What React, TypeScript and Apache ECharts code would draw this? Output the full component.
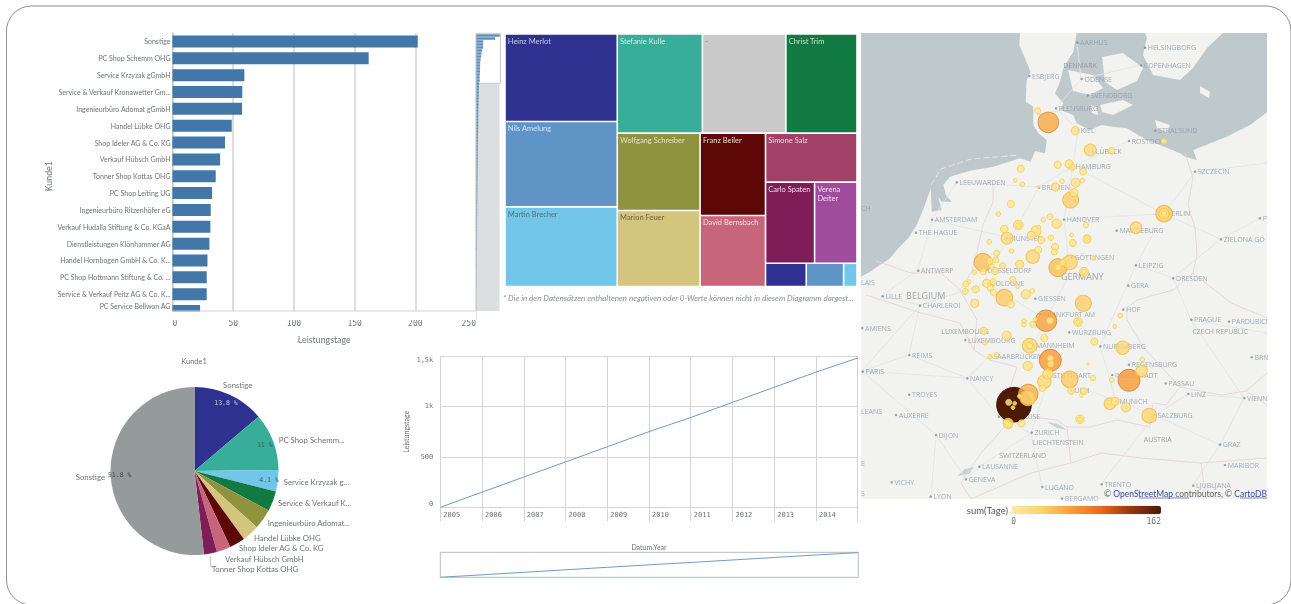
import React, { useEffect, useRef } from "react";
import * as echarts from "echarts";

const customers = ["Sonstige","PC Shop Schemm OHG","Service Krzyzak gGmbH","Service & Verkauf Kronawetter Gm...","Ingenieurbüro Adomat gGmbH","Handel Lübke OHG","Shop Ideler AG & Co. KG","Verkauf Hübsch GmbH","Tonner Shop Kottas OHG","PC Shop Leiting UG","Ingenieurbüro Ritzenhöfer eG","Verkauf Hudalla Stiftung & Co. KGaA","Dienstleistungen Klönhammer AG","Handel Hornbogen GmbH & Co. K...","PC Shop Hottmann Stiftung & Co. ...","Service & Verkauf Peitz AG & Co. K...","PC Service Bellwon AG"];
const customerDays = [202,161.6,59.2,57.5,57.3,48.8,43.3,39.2,35.6,32.6,31.5,31.2,30.4,28.8,28.2,28.2,22.7];
const tailDays = [21,20,20,19,19,18,18,17,17,16,16,15,15,15,14,14,13,13,13,12,12,12,11,11,11,10,10,10,9,9,9,9,8,8,8,8,7,7,7,7,6,6,6,6,5,5,5,5,5,4,4,4,4,4,4,3,3,3,3,3,3,2,2,2,2,2,2,2,1,1,1,1,1,1,1];

// tile tables: [name, value, fill, ink]
const tilesLead: [string,number,string,string][] = [
["Heinz Merlot",9789,"#2e3190","#c9cbe4"],["Nils Amelung",9557,"#5f95c6","#d5e2ee"],["Martin Brecher",8923,"#71c6ea","#5d6f78"],["Stefanie Kulle",8415,"#38ae9a","#cfece6"],["-",8250,"#c8c9c8","#8a8a8a"],["Christ Trim",7029,"#117a43","#c5e0cf"],["Wolfgang Schreiber",6393,"#8f933d","#e3e4c9"],["Marion Feuer",6285,"#d4c57c","#6b6540"],["Franz Beiler",5376,"#5e0707","#f0d6d6"],["David Bernsbach",4638,"#c7657a","#f5dde2"],
];
const tilesSimone: [string,number,string,string] = ["Simone Salz",4474,"#a14167","#f0dce3"];
const tilesPair: [string,number,string,string][] = [["Carlo Spaten",3969,"#7f1d58","#eedde8"],["Verena\nDeiter",3429,"#9f4c9c","#f0e0ef"]];
const tilesSmall: [string,number,string,string][] = [[" ",948,"#2e3190","#fff"],["  ",870,"#5f95c6","#fff"],["   ",311,"#71c6ea","#fff"]];

const pieNames = ["Sonstige","PC Shop Schemm...","Service Krzyzak g...","Service & Verkauf K...","Ingenieurbüro Adomat...","Handel Lübke OHG","Shop Ideler AG & Co. KG","Verkauf Hübsch GmbH","Tonner Shop Kottas OHG","Sonstige"];
const pieValues = [13.8,11,4.1,3.9,3.9,3.3,3,2.7,2.5,51.8];
const pieColors = ["#2e3190","#38ae9a","#71c6ea","#117a43","#8f933d","#d4c57c","#5e0707","#c7657a","#7f1d58","#959a9a"];
const piePercentInk: Record<number,string> = { 0: "#c9cbe4", 1: "#2f5f56", 2: "#3f5f6c", 9: "#3f4545" };

const years = ["2005","2006","2007","2008","2009","2010","2011","2012","2013","2014",""];
const yearDays = [0,150,300,450,600,750,890,1040,1190,1340,1480];

// map space: 0..406 across, 0..466 down
const bubbles: number[][] = [
[176.7,77.7,5],[187.3,89.3,57],[214.3,97.7,9],[229.3,117,19],[250.7,117.7,6],[302.7,108.3,4],[196.7,131.7,7],[208,131,9],[211,134.7,5],[212.3,134,3],[222,138.7,6],[159.7,135.7,7],[154.3,147.3,2],[161.3,151.3,3],[177.3,154,1],[194.3,154,9],[201,148.3,3],[214.7,149.7,11],[221.3,147.7,3],[213,159.7,9],[209.7,167,35],[149.7,171,7],[137.3,181,3],[157.3,192,12],[157.3,192.5,4],[182.3,186.7,3],[189,183.7,5],[195.7,190.7,12],[225,192,4],[143.3,196,8],[175,198,14],[178,194.3,2],[170.3,202.3,9],[146,205.3,19],[180.3,207,7],[190,204.7,4],[210.7,202,2],[211.7,210,7],[226,206,9],[226,206,2],[128.3,208.7,3],[194,214,7],[193.3,219,5],[177.3,216.7,7],[150.7,218,3],[171.7,223.7,24],[135.7,220.3,5],[122,229.3,44],[129,228,5],[134.7,227,5],[209,229.3,29],[197,234.7,44],[197,234.4,5],[201.7,229.7,5],[232.3,225.3,2],[158.7,231.3,9],[141.7,232.7,5],[130.7,233.7,4],[223,238.7,10],[223,238.7,3],[275,194.7,18],[303,180.7,37],[303,180.7,14],[303,180.7,4],[113.3,239.3,3],[122.3,238.7,5],[134,238,7],
[151.7,246.3,5],[125.7,250.3,9],[132.3,248.7,5],[104.7,251,5],[108.3,248.7,2],[104.3,258.3,5],[114.7,256.3,7],[129.3,255.3,5],[132.3,259.3,5],[156.7,253.7,2],[143.3,264.7,37],[164.7,261.3,11],[171.3,258,3],[113.7,270.3,9],[150,271.3,7],[222.3,270.3,35],[185,287.7,62],[189,287.7,6],[174.3,286.3,2],[163,288,3],[163,291.7,3],[171.7,291.3,5],[217,289,10],[217,289,3],[259.3,282.7,3],[253.7,293.3,2],[122.7,297.7,7],[145.7,302.7,11],[124,310.3,2],[183.3,305,7],[168.7,312.7,29],[168.7,312.7,5],[233.3,308.7,7],[261.7,314.7,24],[129,323.7,3],[135.3,321.7,3],[189.3,327.3,65],[189.3,325.3,5],[189.7,331,5],[166.7,333,12],[186.7,341,14],[227,331,1],[281.3,326.3,3],[280.7,338,18],[268,347.3,65],[208.7,346.3,37],[183.3,348.7,24],[188.3,343,2],[232,345,4],[250.7,347,3],[181.3,355.3,6],[210.3,357.7,7],[223,358.3,6],[220.3,362.3,2],[167.3,361,51],[166.7,365,32],[153,371.7,162],[158.3,363.3,2],[147.7,369.3,5],[153.7,370.3,2],[152,374.7,2],[249,370.7,18],[254,368.3,9],[248.3,369.7,2],[265,374.3,12],[288.3,382.7,29],[219,386.3,10],[219,386.3,3],[147,390.3,14],[147,390.3,5],[160.7,390.3,7]
];
const cities: [number,number,string][] = [
[216.3,9.7,"AARHUS"],[284,14.7,"HELSINGBORG"],[280,32.3,"COPENHAGEN"],[168.3,43,"ESBJERG"],[220.7,46,"ODENSE"],[227,62.3,"SVENDBORG"],[195,75.3,"FLENSBURG"],[217,97,"KIEL"],[294.3,97.7,"STRALSUND"],[268,108,"ROSTOCK"],[232,118.7,"LÜBECK"],[212,133,"HAMBURG"],[334,138.7,"SZCZECIN"],[95.7,149.3,"LEEUWARDEN"],[178,154.7,"BREMEN"],[71,186.7,"AMSTERDAM"],[203,186.7,"HANOVER"],[399,185.3,"P"],[55,199.7,"THE HAGUE"],[255.7,197.7,"MAGDEBURG"],[303,180.7,"BERLIN"],[145.7,205.3,"MÜNSTER"],[360,206.3,"ZIELONA GÓ"],[57.3,237.7,"ANTWERP"],[124,237.7,"DÜSSELDORF"],[275,232.3,"LEIPZIG"],[210.7,224.3,"GÖTTINGEN"],
[312.3,245.3,"DRESDEN"],[267.3,252.7,"GERA"],[21.7,263.3,"LILLE"],[59,272.7,"CHARLEROI"],[127.3,250.3,"COLOGNE"],[174.3,265.7,"GIESSEN"],[262.3,276.7,"HOF"],[180,281.3,"FRANKFURT AM"],[330.3,286.7,"PRAGUE"],[368,288.7,"PARDUBICI"],[1.3,295,"AMIENS"],[208.3,299.3,"WÜRZBURG"],[104.3,307,"LUXEMBOURG"],[172.3,312,"MANNHEIM"],[239.3,313.3,"NUREMBERG"],[48.3,322,"REIMS"],[129.7,323,"SAARBRÜCKEN"],[268,331.7,"REGENSBURG"],[390.7,324.3,"BRN"],[1.7,338.7,"PARIS"],[189,342,"STUTTGART"],[106.3,345.3,"NANCY"],[251.3,342,"INGOLSTADT"],[304.7,350.3,"PASSAU"],[327.3,361,"LINZ"],[48.3,361.7,"TROYES"],[210.7,357.7,"ULM"],[383.3,365,"VIENN"],[255.7,368.3,"MUNICH"],[35,382,"AUXERRE"],[294,382,"SALZBURG"],[138,383.7,"MULHOUSE"],[75,402,"DIJON"],[170.7,399.7,"ZURICH"],[359,411.7,"GRAZ"],[364,432,"MARIBOR"],[118.3,433.7,"LAUSANNE"],[105,446.3,"GENEVA"],[30.7,449.3,"VICHY"],[181.3,454,"LUGANO"],[240.7,451.3,"TRENTO"],[332.3,452.7,"LJUBLJANA"],[69.7,463.7,"LYON"],[201,465.7,"BERGAMO"]
];
const regions: [number,number,string][] = [
[359,298.3,"CZECH REPUBLIC"],[104,298.3,"LUXEMBOURG"],[197.3,409,"LIECHTENSTEIN"],[296.7,406.3,"AUSTRIA"],[161.7,422.3,"SWITZERLAND"],[219,32.5,"DENMARK"],
];
const majorRegions: [number,number,string][] = [[221.3,243.7,"GERMANY"],[64.7,262.7,"BELGIUM"]];
const edgeLabels: [number,number,string][] = [[0,175.3,"CH"],[0,249,"LAIS"],[0,378.3,"LEANS"],[0,430,"E"],[0,460.3,"S"]];

const mainland = [[159,0],[158.3,12],[164,25.3],[169.7,38.7],[165.7,47],[164.7,68.7],[172.3,73.7],[172.3,92],[177.3,100.3],[185.7,107],[184,120.3],[174,118],[169.7,128.7],[159,125.3],[132.3,133.7],[109,137.7],[89,143.7],[82.3,152],[85,162],[90.7,168.7],[80.7,168.7],[77.3,163.7],[80.7,177],[70.7,178.7],[69.7,155.3],[64,172],[55.7,192],[47.3,205.3],[37.3,215.3],[29,225.3],[9,238.7],[0,243.7],[0,466],[406,466],[406,79.3],[389,92],[365.7,103.7],[332.3,117],[335.7,127],[324,123.7],[319,120.3],[299,112],[285.7,107],[265.7,95.3],[252.3,93.7],[240.7,92],[229,97],[215.7,90.3],[212.3,82],[199,77],[202.3,70.3],[194,60.3],[199,48.7],[202.3,35.3],[212.3,18.7],[215.7,0]];
const islands = [
[[207,37],[232,42],[242,55],[229,62],[212,58]],
[[241,24],[262,20],[282,35],[276,48],[256,57],[244,49]],
[[239,72],[262,67],[272,72],[252,82],[241,79]],
[[286,5],[282,22],[292,42],[319,47],[332,35],[346,15],[362,0],[284,0]],
[[294,87],[309,92],[306,99],[296,95]],
[[339,53],[349,59],[348,65],[339,60]],
[[230,72],[236,74],[237,82],[231,80]],
];
const lakes = [
[[186,389],[197,391],[206,397],[196,395]],
[[96,443],[104,436],[113,434],[108,441]],
];
const borders = [
[[324,120],[332,145],[327,172],[334,195],[336,222],[332,240]],
[[332,240],[312,257],[276,267],[266,275],[266,287],[282,314],[306,340],[319,354]],
[[319,354],[360,362],[385,358],[406,372]],
[[319,354],[305,372],[292,370],[289,394],[256,387],[229,394],[206,394]],
[[206,394],[196,387],[172,384],[147,390]],
[[147,390],[146,364],[156,334],[129,327],[113,317]],
[[113,317],[116,287],[99,257],[111,238],[116,219],[122,192],[132,169],[132,149]],
[[99,257],[80,240],[50,240],[15,228]],
[[113,317],[99,290],[60,280],[30,270],[5,262]],
[[147,390],[120,420],[100,450],[110,466]],
[[110,466],[170,440],[210,430],[240,420],[280,425],[340,430],[406,425]],
[[385,358],[406,340]],[[332,240],[370,270],[406,285]],
[[176,82],[212,75]],[[206,394],[210,430]],[[340,430],[345,466]],
];
const roads = [
[[212,133],[203,186],[209,240],[185,287],[172,312],[189,342],[255,368]],[[203,186],[303,181]],[[303,181],[212,133]],[[212,133],[178,154],[150,205],[124,238]],[[124,238],[127,250],[185,287]],[[303,181],[275,232],[239,313],[255,368]],[[275,232],[312,245],[330,287],[383,365]],[[303,181],[360,206],[399,185]],[[303,181],[334,139]],[[255,368],[294,382],[327,361],[383,365]],[[127,250],[59,272],[1,338]],[[59,272],[20,263]],[[57,237],[71,187]],[[57,237],[20,263]],[[1,338],[106,345],[129,323]],[[106,345],[138,384],[170,400],[189,342]],[[1,338],[75,402],[105,446],[118,434],[170,400]],[[75,402],[70,464]],[[170,400],[181,454]],[[294,382],[359,412],[383,365]],[[359,412],[332,452]],[[240,451],[294,382]],[[212,133],[217,97],[195,75],[220,46],[216,10]],[[220,46],[280,32]],[[268,108],[212,133]],[[71,187],[150,205]],[[96,149],[71,187]],[[96,149],[178,154]],[[334,139],[406,130]],[[312,245],[360,206]],[[217,289],[239,313]],[[48,322],[1,338]],[[48,322],[106,345]],[[48,322],[59,272]],[[330,287],[406,300]],
];
const legendStops = ["#fde9a0","#fbd26f","#f89c3a","#e8671c","#93380c","#4f1a05"];
const rimStops = ["#f6d53f","#eeb93f","#c9802a","#b54d12","#6c2a09","#3a1303"];

const LATO = "Lato, 'Noto Sans', sans-serif";
const MONO = "'DejaVu Sans Mono', monospace";
const OPEN = "'Open Sans', sans-serif";
const GRID = "#d2d4d5";
const INK = "#6f7374";
const OX = 861, OY = 33;
const shift = (pts: number[][]) => pts.map(([x, y]) => [x + OX, y + OY]);

const pieLabelAt: Record<number, any> = {
  0: { x: 223, y: 385, align: "left" },
  1: { x: 278.7, y: 440, align: "left" },
  2: { x: 283.7, y: 482, align: "left" },
  3: { x: 278, y: 503, align: "left" },
  4: { x: 267.7, y: 522.7, align: "left" },
  5: { x: 254, y: 537.5, align: "left" },
  6: { x: 239, y: 548, align: "left" },
  7: { x: 225, y: 558.5, align: "left" },
  8: { x: 211.7, y: 569, align: "left" },
  9: { x: 105, y: 477, align: "right" },
};

const tile = ([name, value, color, ink]: [string, number, string, string]) => ({
  name, value,
  itemStyle: { color, borderColor: "rgba(255,255,255,0.55)", borderWidth: 0.8 },
  label: { show: true, position: "insideTopLeft", distance: 2, padding: 0, fontFamily: LATO, fontSize: 7.5, color: ink, overflow: "none", lineHeight: 9 },
});
const sum = (list: [string, number, string, string][]) => list.reduce((a, t) => a + t[1], 0);
const group = (children: any[], value: number) => ({ name: " ", value, children, label: { show: false }, upperLabel: { show: false }, itemStyle: { borderWidth: 0, gapWidth: 0 } });

export default function App() {
  const ref = useRef<HTMLDivElement>(null);
  useEffect(() => {
    const chart = echarts.init(ref.current!, undefined, { renderer: "svg" });
    const backdrop: any[] = [
      { type: "rect", z: 0, shape: { x: 6.5, y: 6, width: 1284.5, height: 599, r: 25 }, style: { fill: "#fff", stroke: "#8f8f8f", lineWidth: 1 } },
      { type: "rect", z: 0, shape: { x: 476, y: 33, width: 23.5, height: 278 }, style: { fill: "#dcdedf" } },
      { type: "rect", z: 0, shape: { x: 476.5, y: 33.3, width: 24, height: 50 }, style: { fill: "#fff", stroke: "#c9cbcc", lineWidth: 1 } },
      { type: "rect", z: 0, shape: { x: 440.3, y: 552.3, width: 418, height: 25 }, style: { fill: "#fff", stroke: "#b8bcbf", lineWidth: 1 } },
      { type: "rect", z: 0, shape: { x: OX, y: OY, width: 406, height: 466 }, style: { fill: "#bfc9cc" } },
      { type: "polygon", z: 0, shape: { points: shift(mainland) }, style: { fill: "#f2f2f0" } },
      ...islands.map((p) => ({ type: "polygon", z: 0, shape: { points: shift(p) }, style: { fill: "#f2f2f0" } })),
      ...lakes.map((p) => ({ type: "polygon", z: 0, shape: { points: shift(p) }, style: { fill: "#c9d1d4" } })),
      { type: "polyline", z: 0, shape: { points: shift([[70, 152], [80, 136], [110, 126], [158, 122]]) }, style: { stroke: "#e4e7e7", lineWidth: 1, lineDash: [6, 3], fill: null } },
      ...roads.map((p) => ({ type: "polyline", z: 0, shape: { points: shift(p) }, style: { stroke: "#e2e4e4", lineWidth: 0.9, fill: null } })),
      ...borders.map((p) => ({ type: "polyline", z: 0, shape: { points: shift(p) }, style: { stroke: "#e8d5d8", lineWidth: 0.9, fill: null } })),
      { type: "text", z: 0, x: 194, y: 361, style: { text: "Kunde1", fill: INK, font: `7.5px ${LATO}`, align: "center", verticalAlign: "middle" } },
      { type: "text", z: 0, x: 649, y: 547, style: { text: "Datum.Year", fill: INK, font: `7px ${LATO}`, align: "center", verticalAlign: "middle" } },
      { type: "text", z: 0, x: 503, y: 298, style: { text: "* Die in den Datensätzen enthaltenen negativen oder 0-Werte können nicht in diesem Diagramm dargest...", fill: "#8a8d8e", font: `italic 8px ${LATO}`, verticalAlign: "middle" } },
      { type: "text", z: 0, x: 1008, y: 510, style: { text: "sum(Tage)", fill: "#555", font: `9.5px ${LATO}`, align: "right", verticalAlign: "middle" } },
      { type: "text", z: 0, x: 1013.7, y: 521, style: { text: "0", fill: INK, font: `8px ${MONO}`, align: "center", verticalAlign: "middle" } },
      { type: "text", z: 0, x: 1161, y: 521, style: { text: "162", fill: INK, font: `8px ${MONO}`, align: "right", verticalAlign: "middle" } },
      { type: "polyline", z: 0, shape: { points: [[210, 556], [210.7, 566.7], [213, 567]] }, style: { stroke: "#aaa", lineWidth: 0.7, fill: null } },
      { type: "rect", z: 10, shape: { x: 170, y: 311.5, width: 306, height: 8.5 }, style: { fill: "#fff" } },
      { type: "line", z: 11, shape: { x1: 172, y1: 311, x2: 476, y2: 311 }, style: { stroke: GRID, lineWidth: 1 } },
      { type: "rect", z: 10, shape: { x: 1100, y: 499, width: 167, height: 5 }, style: { fill: "#fff" } },
      { type: "text", z: 11, x: 1267, y: 494, style: { text: "{a|© }{l|OpenStreetMap}{a| contributors, © }{l|CartoDB}", align: "right", verticalAlign: "middle", rich: { a: { fill: "#666", font: `8.5px ${LATO}` }, l: { fill: "#3a4ea8", font: `8.5px ${LATO}` } } } },
      { type: "line", z: 11, shape: { x1: 1139, y1: 498, x2: 1189, y2: 498 }, style: { stroke: "#3a4ea8", lineWidth: 0.6 } },
      { type: "line", z: 11, shape: { x1: 1240, y1: 498, x2: 1267, y2: 498 }, style: { stroke: "#3a4ea8", lineWidth: 0.6 } },
    ];
    const hiddenAxis = { show: false };
    const inner = group([...tilesPair.map(tile), group(tilesSmall.map(tile), sum(tilesSmall))], sum(tilesPair) + sum(tilesSmall));
    const rest = group([tile(tilesSimone), inner], tilesSimone[1] + inner.value);
    const option: any = {
      animation: false,
      backgroundColor: "#fff",
      graphic: { elements: backdrop },
      grid: [
        { left: 172.5, width: 303.5, top: 33, height: 286.45 },
        { left: 476.5, width: 28.75, top: 34, height: 276 },
        { left: 440.3, width: 417.4, top: 356, height: 151.3 },
        { left: 440.3, width: 418, top: 552.3, height: 25 },
        { left: OX, width: 406, top: OY, height: 466 },
      ],
      xAxis: [
        { gridIndex: 0, type: "value", min: 0, max: 250, interval: 50, name: "Leistungstage", nameLocation: "middle", nameGap: 16, nameTextStyle: { fontFamily: LATO, fontSize: 8.8, color: INK }, axisLine: { show: false }, axisTick: { show: false }, splitLine: { lineStyle: { color: GRID, width: 1.5 } }, axisLabel: { fontFamily: MONO, fontSize: 8, color: INK, margin: 0, alignMinLabel: "left", alignMaxLabel: "right" } },
        { gridIndex: 1, type: "value", min: 0, max: 250, ...hiddenAxis },
        { gridIndex: 2, type: "category", data: years, boundaryGap: false, axisLine: { lineStyle: { color: GRID } }, axisTick: { length: 14, alignWithLabel: true, interval: 0, lineStyle: { color: GRID } }, splitLine: { show: true, interval: 0, lineStyle: { color: GRID } }, axisLabel: { interval: 0, align: "left", fontFamily: MONO, fontSize: 7, color: INK, margin: 4, padding: [0, 0, 0, 3], hideOverlap: false } },
        { gridIndex: 3, type: "category", data: years, boundaryGap: false, ...hiddenAxis },
        { gridIndex: 4, type: "value", min: 0, max: 406, ...hiddenAxis },
      ],
      yAxis: [
        { gridIndex: 0, type: "category", inverse: true, data: customers, name: "Kunde1", nameLocation: "middle", nameGap: 120, nameTextStyle: { fontFamily: LATO, fontSize: 8.8, color: INK },
          axisLine: { lineStyle: { color: "#bfc1c2" } }, axisTick: { show: false },
          axisLabel: { interval: 0, fontFamily: LATO, fontSize: 7, color: INK, margin: 2, formatter: (v: string, i: number) => (i === customers.length - 1 ? `{last|${v}}` : v), rich: { last: { fontFamily: LATO, fontSize: 7, color: INK, padding: [0, 0, 10, 0] } } } },
        { gridIndex: 1, type: "category", inverse: true, data: [...customerDays, ...tailDays].map((_, i) => i), ...hiddenAxis },
        { gridIndex: 2, type: "value", min: 0, max: 1500, interval: 500, name: "Leistungstage", nameLocation: "middle", nameGap: 31, nameTextStyle: { fontFamily: LATO, fontSize: 7, color: INK }, axisLine: { show: false }, axisTick: { show: false }, splitLine: { lineStyle: { color: GRID, width: 1 } }, axisLabel: { fontFamily: MONO, fontSize: 7, color: INK, margin: 7, verticalAlignMinLabel: "bottom", verticalAlignMaxLabel: "top", formatter: (v: number) => (v >= 1000 ? `${String(v / 1000).replace(".", ",")}k` : String(v)) } },
        { gridIndex: 3, type: "value", min: 0, max: 1500, ...hiddenAxis },
        { gridIndex: 4, type: "value", inverse: true, min: 0, max: 466, ...hiddenAxis },
      ],
      visualMap: {
        type: "continuous", min: 0, max: 162, seriesIndex: 8, orient: "horizontal", left: 1012, top: 505.7, itemWidth: 8.6, itemHeight: 149,
        calculable: false, hoverLink: false, showLabel: false, text: ["", ""], inRange: { color: legendStops }, padding: 0, dimension: 2,
      },
      series: [
        { type: "bar", xAxisIndex: 0, yAxisIndex: 0, data: customerDays, barWidth: 12, itemStyle: { color: "#4277a8" }, z: 3, silent: true },
        { type: "bar", xAxisIndex: 1, yAxisIndex: 1, data: [...customerDays, ...tailDays], barWidth: 2.4, itemStyle: { color: "#5a8ab8" }, z: 3, silent: true },
        {
          type: "treemap", left: 505, top: 34, width: 352, height: 252.6, roam: false, nodeClick: false, breadcrumb: { show: false }, silent: true, sort: false,
          levels: [0, 1, 2, 3].map(() => ({ itemStyle: { gapWidth: 0, borderWidth: 0 } })),
          data: [...tilesLead.map(tile), rest],
        },
        {
          type: "pie", center: [194.5, 471], radius: [0, 84], startAngle: 90, silent: true, z: 2,
          data: pieNames.map((name, i) => ({ name, value: pieValues[i], itemStyle: { color: pieColors[i] } })),
          label: { show: true, position: "outside", fontFamily: LATO, fontSize: 7.8, color: INK, formatter: "{b}", verticalAlign: "middle" },
          labelLine: { show: false },
          labelLayout: (p: any) => ({ ...pieLabelAt[p.dataIndex], verticalAlign: "middle" }),
        },
        {
          type: "pie", center: [194.5, 471], radius: [60, 84], startAngle: 90, silent: true, z: 3,
          data: pieNames.map((name, i) => ({
            name, value: pieValues[i], itemStyle: { color: "transparent" },
            label: { show: piePercentInk[i] != null, color: piePercentInk[i] ?? INK },
          })),
          label: { position: "inside", fontFamily: MONO, fontSize: 6.5, formatter: (p: any) => `${p.value} %` },
          labelLine: { show: false },
        },
        { type: "line", xAxisIndex: 2, yAxisIndex: 2, data: yearDays, symbol: "none", lineStyle: { color: "#6f9bc6", width: 1 }, z: 3, silent: true },
        { type: "line", xAxisIndex: 3, yAxisIndex: 3, data: yearDays, symbol: "none", lineStyle: { color: "#6f9bc6", width: 1 }, z: 3, silent: true },
        {
          type: "scatter", xAxisIndex: 4, yAxisIndex: 4, data: cities.map(([x, y, name]) => ({ value: [x, y], name })), symbolSize: 2.5, itemStyle: { color: "#7d8c9c" }, z: 1, silent: true,
          label: { show: true, position: "right", distance: 1.5, formatter: "{b}", fontFamily: OPEN, fontSize: 7, color: "#8c99a7" },
        },
        {
          type: "scatter", xAxisIndex: 4, yAxisIndex: 4, z: 3, silent: true,
          data: [...bubbles].sort((a, b) => b[2] - a[2]).map((b) => ({
            value: b,
            itemStyle: { borderColor: echarts.color.lerp(b[2] / 162, rimStops), borderWidth: 1, opacity: b[2] > 100 ? 1 : 0.82 },
          })),
          symbolSize: (v: number[]) => 2 * 17.3 * Math.sqrt(v[2] / 162),
        },
        {
          type: "scatter", xAxisIndex: 4, yAxisIndex: 4, symbolSize: 0, z: 1, silent: true,
          data: regions.map(([x, y, name]) => ({ value: [x, y], name })),
          label: { show: true, position: "inside", formatter: "{b}", fontFamily: OPEN, fontSize: 7, color: "#8b8f93" },
        },
        {
          type: "scatter", xAxisIndex: 4, yAxisIndex: 4, symbolSize: 0, z: 1, silent: true,
          data: majorRegions.map(([x, y, name]) => ({ value: [x, y], name })),
          label: { show: true, position: "inside", formatter: "{b}", fontFamily: OPEN, fontSize: 9, color: "#8b8f93" },
        },
        {
          type: "scatter", xAxisIndex: 4, yAxisIndex: 4, symbolSize: 0, z: 1, silent: true,
          data: edgeLabels.map(([x, y, name]) => ({ value: [x, y], name })),
          label: { show: true, position: "right", distance: 0, formatter: "{b}", fontFamily: OPEN, fontSize: 7, color: "#8c99a7" },
        },
      ],
    };
    chart.setOption(option);
    return () => chart.dispose();
  }, []);
  return <div ref={ref} style={{ position: "fixed", left: 0, top: 0, width: 1291, height: 604, filter: "blur(0.45px)" }} />;
}
